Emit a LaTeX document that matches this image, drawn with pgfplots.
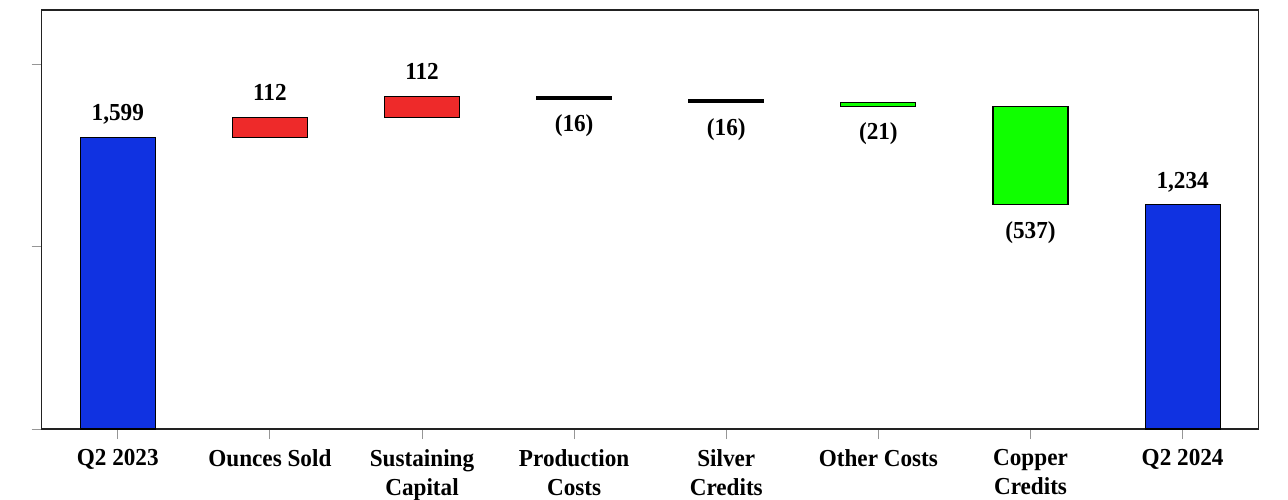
\documentclass[border=0pt]{standalone}
\usepackage{fontspec}
\setmainfont{Liberation Serif}
\newfontfamily\lblfont[FakeStretch=0.95]{Liberation Serif}
\usepackage{pgfplots}
\pgfplotsset{compat=1.18}
\definecolor{wblue}{RGB}{16,50,225}
\definecolor{wred}{RGB}{238,42,42}
\definecolor{wgreen}{RGB}{16,255,0}
\definecolor{framec}{RGB}{34,34,34}
\definecolor{tickgray}{RGB}{150,150,150}
\begin{document}
\begin{tikzpicture}
\useasboundingbox (-41.7bp,-71bp) rectangle (1246.3bp,429bp);
\begin{axis}[
  at={(0,0)}, anchor=south west,
  scale only axis, width=1217bp, height=419bp,
  xmin=-0.5, xmax=7.5, ymin=0, ymax=2300,
  ybar stacked, bar width=75bp,
  axis line style={draw=framec, line width=1.5bp},
  tick align=outside, tick pos=left, major tick length=10bp,
  tick style={draw=tickgray, line width=1bp},
  xtick={0,1,2,3,4,5,6,7},
  xticklabels={Q2 2023, Ounces Sold, {Sustaining\\Capital}, {Production\\Costs}, {Silver\\Credits}, Other Costs, {Copper\\Credits}, Q2 2024},
  ytick={0,1000,2000}, yticklabels={},
  xticklabel style={align=center, yshift=-7bp, font=\lblfont\fontsize{24.5}{29}\selectfont\bfseries},
  clip=false,
]
\addplot[draw=none, fill=none] coordinates {(0,0) (1,1599) (2,1711) (3,1807) (4,1791) (5,1770) (6,1233) (7,0)};
\addplot[fill=wblue, draw=black, line width=1.2bp] coordinates {(0,1599) (1,0) (2,0) (3,0) (4,0) (5,0) (6,0) (7,1234)};
\addplot[fill=wred, draw=black, line width=1.2bp] coordinates {(0,0) (1,112) (2,112) (3,0) (4,0) (5,0) (6,0) (7,0)};
\addplot[fill=black, draw=black, line width=1.2bp] coordinates {(0,0) (1,0) (2,0) (3,16) (4,16) (5,0) (6,0) (7,0)};
\addplot[fill=wgreen, draw=black, line width=1.2bp] coordinates {(0,0) (1,0) (2,0) (3,0) (4,0) (5,21) (6,537) (7,0)};
\tikzset{lbl/.style={anchor=base, font=\lblfont\fontsize{24.5}{29}\selectfont\bfseries}}
\node[lbl, yshift=17bp] at (axis cs:0,1599) {1,599};
\node[lbl, yshift=17bp] at (axis cs:1,1711) {112};
\node[lbl, yshift=17bp] at (axis cs:2,1823) {112};
\node[lbl, yshift=-32bp] at (axis cs:3,1807) {(16)};
\node[lbl, yshift=-33bp] at (axis cs:4,1791) {(16)};
\node[lbl, yshift=-33bp] at (axis cs:5,1770) {(21)};
\node[lbl, yshift=-34bp] at (axis cs:6,1233) {(537)};
\node[lbl, yshift=16bp] at (axis cs:7,1234) {1,234};
\end{axis}
\end{tikzpicture}
\end{document}
